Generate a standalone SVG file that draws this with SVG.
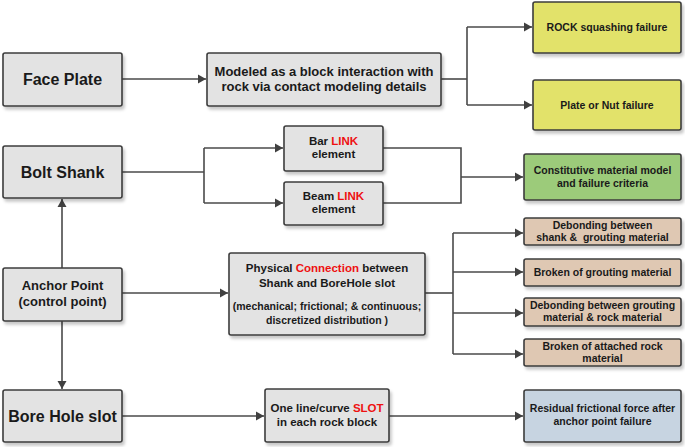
<svg xmlns="http://www.w3.org/2000/svg" width="685" height="447" viewBox="0 0 685 447">
<defs>
<filter id="sh" x="-10%" y="-10%" width="130%" height="140%">
<feDropShadow dx="2" dy="3" stdDeviation="1.5" flood-color="#000" flood-opacity="0.22"/>
</filter>
<marker id="ar" markerUnits="userSpaceOnUse" markerWidth="9" markerHeight="10" refX="8" refY="5" orient="auto">
<path d="M0,0.5 L8,5 L0,9.5 z" fill="#404040"/>
</marker>
<style>
.b{stroke:#3c3c3c;stroke-width:1.6;filter:url(#sh)}
.g{fill:#e3e3e3}
.y{fill:#e2e26a}
.gr{fill:#9ccb7a}
.br{fill:#dfc8b3}
.bl{fill:#c7d4e1}
text{font-family:"Liberation Sans",Arial,sans-serif;font-weight:bold;fill:#1a1a1a;text-anchor:middle}
.L{font-size:16px}
.M{font-size:13px}
.S{font-size:11.5px}
.X{font-size:10.5px}
.r{fill:#ee1111}
.c path{fill:none;stroke:#4a4a4a;stroke-width:1.6}
</style>
</defs>
<rect width="685" height="447" fill="#fff"/>
<g class="c">
<path d="M122,79 H206" marker-end="url(#ar)"/>
<path d="M441,79 H467"/>
<path d="M467,27 V105"/>
<path d="M467,27 H532" marker-end="url(#ar)"/>
<path d="M467,105 H532" marker-end="url(#ar)"/>
<path d="M122,172 H204"/>
<path d="M204,148 V203"/>
<path d="M204,148 H283" marker-end="url(#ar)"/>
<path d="M204,203 H283" marker-end="url(#ar)"/>
<path d="M383,148 H461 V203 H383"/>
<path d="M461,177 H523" marker-end="url(#ar)"/>
<path d="M122,293 H228" marker-end="url(#ar)"/>
<path d="M425,293 H453"/>
<path d="M453,233 V354"/>
<path d="M453,233 H523" marker-end="url(#ar)"/>
<path d="M453,272 H523" marker-end="url(#ar)"/>
<path d="M453,313 H523" marker-end="url(#ar)"/>
<path d="M453,354 H523" marker-end="url(#ar)"/>
<path d="M62,268 V199" marker-end="url(#ar)"/>
<path d="M62,321 V389" marker-end="url(#ar)"/>
<path d="M122,416 H264" marker-end="url(#ar)"/>
<path d="M389,416 H523" marker-end="url(#ar)"/>
</g>
<g id="face-plate"><rect class="b g" x="3" y="53" width="119" height="53" rx="2"/><text class="L" x="62.5" y="85">Face Plate</text></g>
<g id="modeled"><rect class="b g" x="207" y="53" width="234" height="53" rx="2"/><text class="M" x="324" y="76">Modeled as a block interaction with</text><text class="M" x="324" y="91">rock via contact modeling details</text></g>
<g id="rock-squash"><rect class="b y" x="533" y="2" width="148" height="51" rx="2"/><text class="X" x="607" y="31">ROCK squashing failure</text></g>
<g id="plate-nut"><rect class="b y" x="533" y="80" width="148" height="50" rx="2"/><text class="X" x="607" y="109">Plate or Nut failure</text></g>
<g id="bolt-shank"><rect class="b g" x="3" y="146" width="119" height="52" rx="2"/><text class="L" x="62.5" y="178">Bolt Shank</text></g>
<g id="bar-link"><rect class="b g" x="284" y="126" width="99" height="45" rx="2"/><text class="S" x="333.5" y="145">Bar <tspan class="r">LINK</tspan></text><text class="S" x="333.5" y="158">element</text></g>
<g id="beam-link"><rect class="b g" x="284" y="182" width="99" height="43" rx="2"/><text class="S" x="333.5" y="200">Beam <tspan class="r">LINK</tspan></text><text class="S" x="333.5" y="213">element</text></g>
<g id="constitutive"><rect class="b gr" x="524" y="154" width="157" height="46" rx="2"/><text class="X" x="602.5" y="174">Constitutive material model</text><text class="X" x="602.5" y="187">and failure criteria</text></g>
<g id="anchor-point"><rect class="b g" x="3" y="268" width="119" height="53" rx="2"/><text class="M" x="62.5" y="290">Anchor Point</text><text class="M" x="62.5" y="306">(control point)</text></g>
<g id="physical"><rect class="b g" x="229" y="253" width="196" height="82" rx="2"/><text class="S" x="327" y="272">Physical <tspan class="r">Connection</tspan> between</text><text class="S" x="327" y="287">Shank and BoreHole slot</text><text class="X" x="327" y="310">(mechanical; frictional; &amp; continuous;</text><text class="X" x="327" y="324">discretized distribution )</text></g>
<g id="debond-shank"><rect class="b br" x="524" y="218" width="157" height="27" rx="2"/><text class="X" x="602.5" y="229">Debonding between</text><text class="X" x="602.5" y="241">shank &amp;&#160; grouting material</text></g>
<g id="broken-grout"><rect class="b br" x="524" y="259" width="157" height="27" rx="2"/><text class="X" x="602.5" y="276">Broken of grouting material</text></g>
<g id="debond-rock"><rect class="b br" x="524" y="298" width="157" height="28" rx="2"/><text class="X" x="602.5" y="309">Debonding between grouting</text><text class="X" x="602.5" y="321">material &amp; rock material</text></g>
<g id="broken-rock"><rect class="b br" x="524" y="339" width="157" height="27" rx="2"/><text class="X" x="602.5" y="350">Broken of attached rock</text><text class="X" x="602.5" y="362">material</text></g>
<g id="bore-hole"><rect class="b g" x="3" y="390" width="119" height="52" rx="2"/><text class="L" x="62.5" y="422">Bore Hole slot</text></g>
<g id="slot"><rect class="b g" x="265" y="389" width="124" height="53" rx="2"/><text class="S" x="327" y="412">One line/curve <tspan class="r">SLOT</tspan></text><text class="S" x="327" y="426">in each rock block</text></g>
<g id="residual"><rect class="b bl" x="524" y="390" width="157" height="52" rx="2"/><text class="X" x="602.5" y="412">Residual frictional force after</text><text class="X" x="602.5" y="425">anchor point failure</text></g>
</svg>
